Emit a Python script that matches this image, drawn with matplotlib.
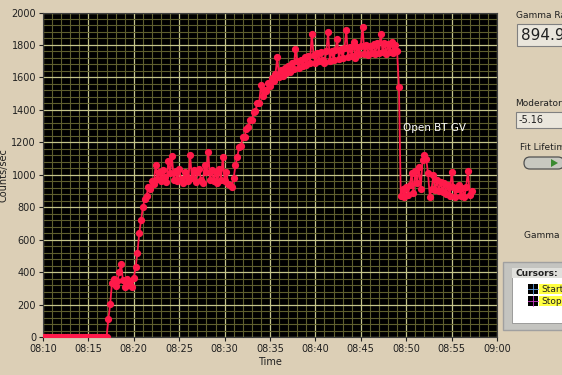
import numpy as np
import matplotlib
matplotlib.use("Agg")
import matplotlib.pyplot as plt
from matplotlib.patches import Rectangle, FancyBboxPatch, Polygon
from matplotlib.ticker import MultipleLocator

# sample spacing of the logged rate (minutes after 08:10)
t_start = 0.0
t_step = 0.2

counts = [
    0, 2, 0, 1, 0, 0, 3, 0, 1, 0, 0, 2, 0, 0, 1, 0, 0, 2,
    0, 1, 0, 0, 2, 0, 0, 1, 0, 3, 0, 0, 1, 0, 2, 0, 0, 1,
    110, 203, 335, 355, 315, 345, 400, 450, 350, 310, 355, 320, 345, 310, 365,
    430, 520, 640, 720, 800, 850, 870, 925, 915, 960, 945, 1060, 975, 1020,
    960, 1030, 985, 955, 1085, 1010, 1115, 970, 1025, 960, 1035, 975, 950, 1020,
    990, 960, 1120, 980, 1030, 955, 1015, 1035, 970, 950, 1060, 1020, 1140, 965,
    1030, 960, 1020, 950, 1035, 970, 1110, 960, 1015, 945, 935, 925, 980,
    1060, 1110, 1170, 1180, 1230, 1235, 1285, 1295, 1335, 1340, 1385, 1395, 1440,
    1440, 1553, 1485, 1525, 1515, 1565, 1545, 1595, 1575, 1620, 1725, 1600, 1645,
    1610, 1660, 1630, 1670, 1635, 1690, 1650, 1775, 1700, 1660, 1710, 1670, 1725,
    1675, 1730, 1690, 1867, 1740, 1690, 1750, 1700, 1755, 1705, 1690, 1760, 1880,
    1700, 1765, 1710, 1770, 1836, 1715, 1775, 1720, 1780, 1892, 1725, 1785, 1730,
    1818, 1720, 1790, 1745, 1795, 1910, 1745, 1800, 1740, 1795, 1750, 1805, 1745,
    1810, 1750, 1867, 1755, 1815, 1745, 1805, 1755, 1820, 1750, 1800, 1760,
    1540, 870, 915, 860, 925, 875, 935, 1010, 885, 1023, 950, 1047, 915, 1090,
    1120, 1100, 1010, 865, 915, 998, 905, 965, 900, 955, 895, 950, 880, 935, 870,
    1017, 925, 865, 915, 935, 870, 920, 860, 925, 1023, 875, 900,
]

x_ticks = [0, 5, 10, 15, 20, 25, 30, 35, 40, 45, 50]
x_tick_labels = ["08:10", "08:15", "08:20", "08:25", "08:30", "08:35",
                 "08:40", "08:45", "08:50", "08:55", "09:00"]
y_ticks = [0, 200, 400, 600, 800, 1000, 1200, 1400, 1600, 1800, 2000]

gamma_rate = "894.9"
moderator = "-5.16"

panel = "#dccfb6"
trace = "#ff1a4a"

minutes = t_start + t_step * np.arange(len(counts))

fig = plt.figure(figsize=(5.62, 3.75), dpi=100, facecolor=panel)
ax = fig.add_axes([43 / 562, 38 / 375, 454 / 562, 324.5 / 375])
ax.set_facecolor("black")

ax.plot(minutes, counts, color=trace, lw=1.3, marker="o", ms=4.2,
        mec=trace, mfc=trace, zorder=3)

ax.set_xlim(0, 50)
ax.set_ylim(0, 2000)
ax.set_xticks(x_ticks)
ax.set_xticklabels(x_tick_labels)
ax.set_yticks(y_ticks)
ax.xaxis.set_minor_locator(MultipleLocator(1))
ax.yaxis.set_minor_locator(MultipleLocator(40))
ax.grid(which="minor", color="#5e5e2e", lw=0.8)
ax.grid(which="major", color="#c4c48a", lw=0.9)
ax.set_axisbelow(True)
ax.tick_params(which="minor", length=0)
ax.tick_params(which="major", length=3, width=0.8, color="#202020",
               labelsize=7, labelcolor="#202020", pad=2)
for s in ax.spines.values():
    s.set_color("#404040")
    s.set_linewidth(0.8)

ax.set_xlabel("Time", fontsize=7, color="#202020", labelpad=2)
ax.set_ylabel("Counts/sec", fontsize=7, color="#202020", labelpad=2)

ax.text(39.7, 1290, "Open BT GV", color="white", fontsize=7.5, va="center")

# front-panel controls on the right (pixel coordinates)
ov = fig.add_axes([0, 0, 1, 1], facecolor="none")
ov.set_xlim(0, 562)
ov.set_ylim(375, 0)
ov.axis("off")

ov.text(516, 16, "Gamma Ra", fontsize=6.5, color="#202020", va="center")
ov.add_patch(Rectangle((517, 24), 50, 22, fc="#eae6dc", ec="#808080", lw=0.8))
ov.text(521, 35, gamma_rate, fontsize=11, color="#202020", va="center")

ov.text(515, 103, "Moderator", fontsize=6.5, color="#202020", va="center")
ov.add_patch(Rectangle((516, 112), 50, 16, fc="#eae6dc", ec="#808080", lw=0.8))
ov.text(519, 120, moderator, fontsize=7, color="#202020", va="center")

ov.text(520, 147, "Fit Lifetim", fontsize=6.5, color="#202020", va="center")
ov.add_patch(FancyBboxPatch((524, 157), 40, 12, boxstyle="round,pad=0,rounding_size=6",
                            fc="#c8c8c0", ec="#505050", lw=0.9))
ov.add_patch(Polygon([[551, 159], [558, 163], [551, 167]], closed=True,
                     fc="#3a8a30", ec="none"))

ov.text(524, 235, "Gamma S", fontsize=6.5, color="#202020", va="center")

ov.add_patch(Rectangle((503, 262), 62, 68, fc="#c4c4c0", ec="#a0a0a0", lw=1))
ov.add_patch(Rectangle((512, 268), 52, 55, fc="white", ec="#909090", lw=0.6))
ov.add_patch(Rectangle((512, 268), 52, 10, fc="#e0e0dc", ec="none"))
ov.text(515, 273, "Cursors:", fontsize=6.5, fontweight="bold",
        color="#202020", va="center")
ov.add_patch(Rectangle((528, 284), 10, 10, fc="black", ec="none"))
ov.add_patch(Rectangle((528, 296), 10, 10, fc="black", ec="none"))
ov.plot([528, 538], [289, 289], color="#60a0e0", lw=0.6)
ov.plot([533, 533], [284, 294], color="#60a0e0", lw=0.6)
ov.plot([528, 538], [301, 301], color="#d040d0", lw=0.6)
ov.plot([533, 533], [296, 306], color="#d040d0", lw=0.6)
ov.add_patch(Rectangle((539, 284), 25, 10, fc="#ffff40", ec="none"))
ov.add_patch(Rectangle((539, 296), 25, 10, fc="#ffff40", ec="none"))
ov.text(541, 289, "Start", fontsize=6.5, color="#202020", va="center", clip_on=True)
ov.text(541, 301, "Stop", fontsize=6.5, color="#202020", va="center", clip_on=True)

fig.savefig("out.png", dpi=100, facecolor=panel)
